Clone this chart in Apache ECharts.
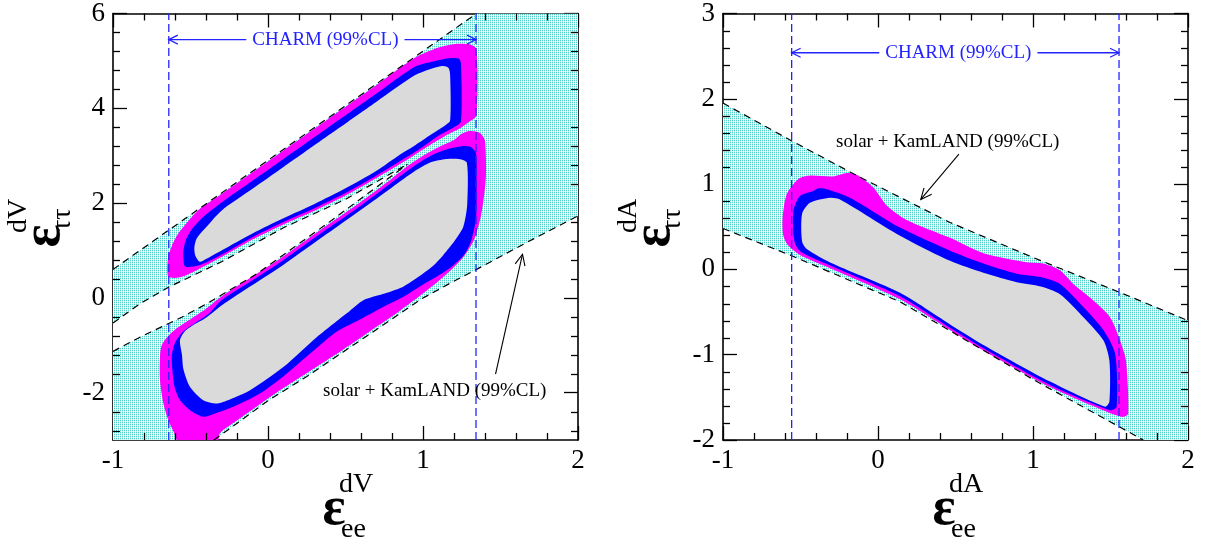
<!DOCTYPE html>
<html>
<head>
<meta charset="utf-8">
<script src="https://cdn.jsdelivr.net/npm/echarts@6/dist/echarts.min.js"></script>
<style>
html, body { margin: 0; padding: 0; background: #fff; }
#chart { width: 1207px; height: 550px; }
</style>
</head>
<body>
<div id="chart"></div>
<script>
// ---------- tick values ----------
const xMajor = [-1, 0, 1, 2];
const xMinor = [-0.8, -0.6, -0.4, -0.2, 0.2, 0.4, 0.6, 0.8, 1.2, 1.4, 1.6, 1.8];
const yVMajor = [-2, 0, 2, 4, 6];
const yVMinor = [-2.8, -2.4, -1.6, -1.2, -0.8, -0.4, 0.4, 0.8, 1.2, 1.6, 2.4, 2.8, 3.2, 3.6, 4.4, 4.8, 5.2, 5.6];
const yAMajor = [-2, -1, 0, 1, 2, 3];
const yAMinor = [-1.8, -1.6, -1.4, -1.2, -0.8, -0.6, -0.4, -0.2, 0.2, 0.4, 0.6, 0.8, 1.2, 1.4, 1.6, 1.8, 2.2, 2.4, 2.6, 2.8];

// ---------- vector panel (eps_ee^dV, eps_tautau^dV) ----------
// solar + KamLAND 99% CL band boundaries
const vLineA = [[-1, 0.6], [1.345, 6]];
const vLineB = [[-1, -0.53], [-0.826, -0.125], [-0.632, 0.24], [-0.3, 0.76], [0.1, 1.48], [0.5, 2.08], [0.9, 2.82]];
const vLineC = [[-1, -1.13], [-0.826, -0.83], [-0.557, -0.41], [-0.395, -0.125], [-0.073, 0.505], [0.379, 1.56], [0.9, 2.82]];
const vLineD = [[-0.35, -3], [-0.18, -2.6], [0, -2.17], [0.25, -1.66], [0.49, -1.13], [0.74, -0.58], [0.986, -0.03], [1.17, 0.3], [1.345, 0.6], [1.67, 1.17], [2, 1.73]];
// CHARM 99% CL limits
const vCharm = [-0.64, 1.342];
// allowed regions: upper island
const vUpper99 = [[-0.645, 0.45], [-0.645, 0.85], [-0.62, 1.1], [-0.58, 1.35], [-0.52, 1.6], [-0.45, 1.85], [-0.3, 2.19], [-0.1, 2.65], [0.1, 3.11], [0.4, 3.8], [0.7, 4.49], [0.95, 5.07], [1.1, 5.28], [1.22, 5.36], [1.3, 5.35], [1.345, 5.25], [1.345, 3.85], [1.3, 3.72], [1.24, 3.58], [1.15, 3.43], [1.0, 3.13], [0.9, 2.92], [0.7, 2.53], [0.5, 2.16], [0.3, 1.84], [0.1, 1.55], [-0.1, 1.23], [-0.3, 0.86], [-0.45, 0.6], [-0.55, 0.45], [-0.6, 0.42]];
const vUpper90 = [[-0.535, 0.66], [-0.546, 0.85], [-0.546, 1.0], [-0.53, 1.22], [-0.49, 1.45], [-0.42, 1.7], [-0.3, 2.01], [-0.1, 2.47], [0.1, 2.93], [0.4, 3.62], [0.7, 4.31], [0.95, 4.88], [1.08, 5.0], [1.18, 5.06], [1.23, 5.05], [1.245, 4.95], [1.245, 3.72], [1.2, 3.6], [1.1, 3.42], [1.0, 3.19], [0.9, 2.98], [0.7, 2.58], [0.5, 2.21], [0.3, 1.89], [0.1, 1.6], [-0.1, 1.28], [-0.3, 0.91], [-0.45, 0.68]];
const vUpper68 = [[-0.44, 0.76], [-0.47, 0.9], [-0.475, 1.07], [-0.46, 1.25], [-0.41, 1.45], [-0.3, 1.84], [-0.1, 2.3], [0.1, 2.76], [0.4, 3.45], [0.7, 4.14], [0.95, 4.7], [1.06, 4.84], [1.13, 4.89], [1.165, 4.85], [1.175, 4.7], [1.175, 3.74], [1.14, 3.63], [1.05, 3.44], [0.95, 3.22], [0.85, 3.02], [0.7, 2.68], [0.5, 2.31], [0.3, 1.98], [0.1, 1.68], [-0.1, 1.36], [-0.3, 1.0], [-0.4, 0.82]];
// allowed regions: lower island
const vLower99 = [[-0.686, -1.0], [-0.643, -0.8], [-0.58, -0.62], [-0.5, -0.45], [-0.4, -0.23], [-0.3, 0.03], [-0.1, 0.45], [0.1, 0.88], [0.38, 1.53], [0.6, 2.03], [0.8, 2.52], [0.9, 2.78], [1.0, 3.0], [1.1, 3.18], [1.2, 3.33], [1.25, 3.46], [1.3, 3.52], [1.368, 3.48], [1.4, 3.31], [1.406, 2.56], [1.39, 2.05], [1.37, 1.67], [1.33, 1.23], [1.27, 0.9], [1.2, 0.65], [1.11, 0.38], [1.0, 0.09], [0.852, -0.27], [0.637, -0.75], [0.421, -1.23], [0.25, -1.59], [0.077, -1.95], [-0.05, -2.24], [-0.2, -2.59], [-0.31, -2.86], [-0.33, -3.1], [-0.57, -3.1], [-0.6, -2.89], [-0.643, -2.58], [-0.675, -2.23], [-0.697, -1.74], [-0.697, -1.25]];
const vLower90 = [[-0.621, -1.25], [-0.6, -0.95], [-0.55, -0.72], [-0.47, -0.53], [-0.38, -0.33], [-0.3, -0.05], [-0.1, 0.37], [0.1, 0.8], [0.38, 1.45], [0.6, 1.95], [0.8, 2.44], [0.95, 2.8], [1.05, 3.0], [1.15, 3.13], [1.25, 3.2], [1.31, 3.18], [1.342, 3.05], [1.345, 2.5], [1.342, 1.67], [1.31, 1.2], [1.27, 0.93], [1.2, 0.7], [1.11, 0.49], [0.986, 0.25], [0.862, 0.0], [0.74, -0.2], [0.615, -0.42], [0.44, -0.72], [0.314, -1.06], [0.12, -1.6], [-0.052, -2.02], [-0.224, -2.3], [-0.35, -2.45], [-0.417, -2.51], [-0.503, -2.37], [-0.57, -2.15], [-0.605, -1.85]];
const vLower68 = [[-0.568, -0.9], [-0.54, -0.72], [-0.48, -0.57], [-0.4, -0.42], [-0.3, -0.16], [-0.1, 0.27], [0.1, 0.7], [0.38, 1.35], [0.6, 1.86], [0.8, 2.33], [0.95, 2.68], [1.05, 2.86], [1.15, 2.93], [1.233, 2.93], [1.283, 2.85], [1.285, 1.96], [1.26, 1.5], [1.21, 1.23], [1.13, 0.9], [1.06, 0.66], [0.96, 0.42], [0.862, 0.22], [0.74, 0.08], [0.615, -0.05], [0.529, -0.27], [0.42, -0.55], [0.314, -0.83], [0.099, -1.46], [-0.116, -1.95], [-0.25, -2.15], [-0.331, -2.23], [-0.417, -2.16], [-0.503, -1.88], [-0.546, -1.5], [-0.555, -1.2]];

// ---------- axial panel (eps_ee^dA, eps_tautau^dA) ----------
const aLineUp = [[-1, 1.95], [-0.55, 1.5], [-0.137, 1.1], [0.465, 0.55], [1.0, 0.14], [1.561, -0.27], [2, -0.6]];
const aLineLow = [[-1, 0.48], [-0.557, 0.16], [0.142, -0.38], [0.465, -0.72], [1.0, -1.29], [1.712, -2.0]];
const aCharm = [-0.557, 1.555];
const aRegion99 = [[-0.611, 0.395], [-0.615, 0.61], [-0.589, 0.88], [-0.514, 1.06], [-0.439, 1.1], [-0.29, 1.09], [-0.202, 1.13], [-0.137, 1.11], [-0.03, 0.96], [0.056, 0.75], [0.185, 0.58], [0.465, 0.37], [0.68, 0.19], [0.959, 0.085], [1.066, 0.07], [1.174, -0.01], [1.26, -0.17], [1.368, -0.33], [1.497, -0.56], [1.561, -0.83], [1.6, -1.07], [1.615, -1.69], [1.58, -1.73], [1.475, -1.67], [1.11, -1.38], [0.68, -0.95], [0.465, -0.71], [0.142, -0.35], [-0.29, 0.0], [-0.504, 0.17], [-0.579, 0.28]];
const aRegion90 = [[-0.54, 0.337], [-0.545, 0.69], [-0.504, 0.86], [-0.417, 0.92], [-0.385, 0.95], [-0.33, 0.94], [-0.181, 0.84], [0.142, 0.49], [0.465, 0.22], [0.68, 0.07], [0.895, -0.05], [1.05, -0.09], [1.174, -0.17], [1.325, -0.44], [1.454, -0.71], [1.53, -0.99], [1.54, -1.61], [1.497, -1.65], [1.11, -1.355], [0.68, -0.925], [0.465, -0.685], [0.142, -0.315], [-0.29, 0.03], [-0.5, 0.21]];
const aRegion68 = [[-0.49, 0.33], [-0.49, 0.65], [-0.439, 0.78], [-0.31, 0.84], [-0.245, 0.82], [0.142, 0.395], [0.465, 0.1], [0.68, -0.04], [0.895, -0.15], [1.05, -0.2], [1.174, -0.29], [1.325, -0.56], [1.454, -0.83], [1.493, -1.07], [1.493, -1.55], [1.465, -1.61], [1.11, -1.315], [0.68, -0.885], [0.465, -0.645], [0.142, -0.275], [-0.29, 0.065], [-0.46, 0.24]];

// ---------- annotations ----------
const charmLabel = 'CHARM (99%CL)';
const skLabel = 'solar + KamLAND (99%CL)';
const vCharmArrowY = 5.45;
const aCharmArrowY = 2.54;
const vSkText = [0.355, -1.96];
const vSkArrow = [[1.468, -1.61], [1.642, 0.92]];
const aSkText = [-0.271, 1.496];
const aSkArrow = [[0.522, 1.352], [0.276, 0.82]];

// ---------- styling ----------
const SERIF = '"Liberation Serif", "Times New Roman", serif';
const MAGENTA = '#ff00ff';
const BLUE = '#0000ff';
const GRAY = '#dadada';
const CHARM_BLUE = '#2323ff';
const GRID_W = 465, GRID_H = 428, MINOR_LEN = 7;

// dotted cyan fill for the solar + KamLAND band
const dotCanvas = document.createElement('canvas');
dotCanvas.width = 2; dotCanvas.height = 2;
(function () {
  const c = dotCanvas.getContext('2d');
  c.fillStyle = '#ffffff'; c.fillRect(0, 0, 2, 2);
  c.fillStyle = '#4fd3ca'; c.fillRect(0, 0, 1, 1);
  c.fillStyle = '#c0eeea'; c.fillRect(0, 1, 1, 1);
})();
const DOTS = { image: dotCanvas, repeat: 'repeat' };

const chart = echarts.init(document.getElementById('chart'), null, { renderer: 'canvas' });

const tickLine = { color: '#000', width: 1.3 };
const frameLine = { show: true, onZero: false, lineStyle: { color: '#000', width: 1.6 } };
const tickLabel = { show: true, color: '#000', fontFamily: SERIF, fontSize: 27 };

// labelled major axis plus its mirrored twin on the opposite side
function axisPair(kind, grid, min, max, major) {
  const sides = kind === 'x' ? ['bottom', 'top'] : ['left', 'right'];
  return sides.map(function (pos, i) {
    return {
      gridIndex: grid, type: 'value', min: min, max: max, position: pos,
      axisLine: frameLine,
      axisTick: { show: true, inside: true, length: 14, lineStyle: tickLine, customValues: major },
      axisLabel: i === 0 ? Object.assign({ customValues: major, margin: kind === 'x' ? 7 : 8 }, tickLabel) : { show: false },
      splitLine: { show: false }
    };
  });
}

function polySeries(xi, yi, layers, smooth, z) {
  return {
    type: 'custom', xAxisIndex: xi, yAxisIndex: yi, clip: true, silent: true, z: z,
    data: [[0, 0]],
    renderItem: function (params, api) {
      return {
        type: 'group',
        children: layers.map(function (l) {
          return { type: 'polygon', shape: { points: l[0].map(function (p) { return api.coord(p); }), smooth: smooth }, style: { fill: l[1], stroke: null } };
        })
      };
    }
  };
}

function dashedLine(xi, yi, pts, color, dash, width, z) {
  return {
    type: 'line', xAxisIndex: xi, yAxisIndex: yi, data: pts, symbol: 'none', silent: true, z: z,
    clip: true, animation: false,
    lineStyle: { color: color, width: width, type: dash }
  };
}

function arrowHead(p0, p1, len, half) {
  const dx = p1[0] - p0[0], dy = p1[1] - p0[1];
  const d = Math.sqrt(dx * dx + dy * dy);
  const ux = dx / d, uy = dy / d;
  return [
    [p1[0] - ux * len - uy * half, p1[1] - uy * len + ux * half],
    [p1[0], p1[1]],
    [p1[0] - ux * len + uy * half, p1[1] - uy * len - ux * half]
  ];
}

// annotations: CHARM arrow and the solar + KamLAND label
function annotSeries(xi, yi, charm, charmY, skText, skArrow) {
  return {
    type: 'custom', xAxisIndex: xi, yAxisIndex: yi, clip: false, silent: true, z: 20,
    data: [[0, 0]],
    renderItem: function (params, api) {
      const l = api.coord([charm[0], charmY]);
      const r = api.coord([charm[1], charmY]);
      const mid = [(l[0] + r[0]) / 2, l[1]];
      const a0 = api.coord(skArrow[0]);
      const a1 = api.coord(skArrow[1]);
      const t = api.coord(skText);
      const blueLine = { stroke: CHARM_BLUE, lineWidth: 1.3, fill: null };
      const blackLine = { stroke: '#000', lineWidth: 1.1, fill: null };
      return {
        type: 'group',
        children: [
          { type: 'polyline', shape: { points: [l, r] }, style: blueLine },
          { type: 'polyline', shape: { points: arrowHead(r, l, 9, 4.5) }, style: blueLine },
          { type: 'polyline', shape: { points: arrowHead(l, r, 9, 4.5) }, style: blueLine },
          { type: 'text', x: mid[0] + 3, y: mid[1], style: { text: charmLabel, fill: CHARM_BLUE, fontFamily: SERIF, fontSize: 19, align: 'center', verticalAlign: 'middle', backgroundColor: '#fff', padding: [2, 6] } },
          { type: 'polyline', shape: { points: [a0, a1] }, style: blackLine },
          { type: 'polyline', shape: { points: arrowHead(a0, a1, 11, 5) }, style: blackLine },
          { type: 'text', x: t[0], y: t[1], style: { text: skLabel, fill: '#000', fontFamily: SERIF, fontSize: 19, align: 'left', verticalAlign: 'middle' } }
        ]
      };
    }
  };
}

// band and gap polygons assembled from the boundary curves
const vBand = vLineA.concat([[2, 6]], vLineD.slice().reverse(), [[-1, -3]]);
const vGap = vLineB.concat(vLineC.slice().reverse());
const aBand = aLineUp.concat([[2, -2]], aLineLow.slice().reverse());

const series = [
  // vector panel
  polySeries(0, 0, [[vBand, DOTS]], 0, 1),
  polySeries(0, 0, [[vGap, '#ffffff']], 0, 2),
  polySeries(0, 0, [[vUpper99, MAGENTA], [vLower99, MAGENTA], [vUpper90, BLUE], [vLower90, BLUE], [vUpper68, GRAY], [vLower68, GRAY]], 0.25, 3),
  dashedLine(0, 0, vLineA, '#000', [7, 5], 1.2, 5),
  dashedLine(0, 0, vLineB, '#000', [7, 5], 1.2, 5),
  dashedLine(0, 0, vLineC, '#000', [7, 5], 1.2, 5),
  dashedLine(0, 0, vLineD, '#000', [7, 5], 1.2, 5),
  dashedLine(0, 0, [[vCharm[0], -3], [vCharm[0], 6]], CHARM_BLUE, [8, 4], 1.3, 6),
  dashedLine(0, 0, [[vCharm[1], -3], [vCharm[1], 6]], CHARM_BLUE, [8, 4], 1.3, 6),
  annotSeries(0, 0, vCharm, vCharmArrowY, vSkText, vSkArrow),
  // axial panel
  polySeries(2, 2, [[aBand, DOTS]], 0, 1),
  polySeries(2, 2, [[aRegion99, MAGENTA], [aRegion90, BLUE], [aRegion68, GRAY]], 0.25, 3),
  dashedLine(2, 2, aLineUp, '#000', [7, 5], 1.2, 5),
  dashedLine(2, 2, aLineLow, '#000', [7, 5], 1.2, 5),
  dashedLine(2, 2, [[aCharm[0], -2], [aCharm[0], 3]], CHARM_BLUE, [8, 4], 1.3, 6),
  dashedLine(2, 2, [[aCharm[1], -2], [aCharm[1], 3]], CHARM_BLUE, [8, 4], 1.3, 6),
  annotSeries(2, 2, aCharm, aCharmArrowY, aSkText, aSkArrow)
];

// axis titles: epsilon with superscript / subscript
function axisTitle(x, y, rot, sup, sub, supX, subX, supY, subY) {
  return {
    type: 'group', x: x, y: y, rotation: rot, silent: true,
    children: [
      { type: 'text', x: 0, y: 0, style: { text: 'ε', fontFamily: SERIF, fontSize: 54, fontWeight: 'bold', fill: '#000', align: 'center', verticalAlign: 'middle' } },
      { type: 'text', x: supX, y: supY, style: { text: sup, fontFamily: SERIF, fontSize: 28, fill: '#000', align: 'left', verticalAlign: 'middle' } },
      { type: 'text', x: subX, y: subY, style: { text: sub, fontFamily: SERIF, fontSize: 28, fill: '#000', align: 'left', verticalAlign: 'middle' } }
    ]
  };
}

const titles = [
  axisTitle(334, 510, 0, 'dV', 'ee', 5, 7, -25, 20),
  axisTitle(944, 510, 0, 'dA', 'ee', 5, 7, -25, 20),
  axisTitle(45, 236, Math.PI / 2, 'dV', 'ττ', 3, 5, -26, 18),
  axisTitle(655, 236, Math.PI / 2, 'dA', 'ττ', 3, 5, -26, 18)
];

chart.setOption({
  animation: false,
  backgroundColor: '#fff',
  grid: [
    { left: 113, top: 12, width: GRID_W, height: GRID_H },
    { left: 723, top: 12, width: GRID_W, height: GRID_H }
  ],
  xAxis: axisPair('x', 0, -1, 2, xMajor).concat(axisPair('x', 1, -1, 2, xMajor)),
  yAxis: axisPair('y', 0, -3, 6, yVMajor).concat(axisPair('y', 1, -2, 3, yAMajor)),
  series: series,
  graphic: titles
});

// minor ticks on all four frame sides, placed through each grid's own scales
function minorTickGraphics(gridIndex, xr, yr, xs, ys) {
  const out = [];
  const px = function (p) { return chart.convertToPixel({ gridIndex: gridIndex }, p); };
  const st = { stroke: '#000', lineWidth: 1.3 };
  xs.forEach(function (v) {
    const b = px([v, yr[0]]), t = px([v, yr[1]]);
    const x = Math.round(b[0]) + 0.5;
    out.push({ type: 'line', z: 100, silent: true, shape: { x1: x, y1: b[1], x2: x, y2: b[1] - MINOR_LEN }, style: st });
    out.push({ type: 'line', z: 100, silent: true, shape: { x1: x, y1: t[1], x2: x, y2: t[1] + MINOR_LEN }, style: st });
  });
  ys.forEach(function (v) {
    const l = px([xr[0], v]), r = px([xr[1], v]);
    const y = Math.round(l[1]) + 0.5;
    out.push({ type: 'line', z: 100, silent: true, shape: { x1: l[0], y1: y, x2: l[0] + MINOR_LEN, y2: y }, style: st });
    out.push({ type: 'line', z: 100, silent: true, shape: { x1: r[0], y1: y, x2: r[0] - MINOR_LEN, y2: y }, style: st });
  });
  return out;
}

try {
  const ticks = minorTickGraphics(0, [-1, 2], [-3, 6], xMinor, yVMinor)
    .concat(minorTickGraphics(1, [-1, 2], [-2, 3], xMinor, yAMinor));
  chart.setOption({ graphic: titles.concat(ticks) });
} catch (e) {
  // keep the chart as drawn if pixel conversion is unavailable
}
</script>
</body>
</html>
